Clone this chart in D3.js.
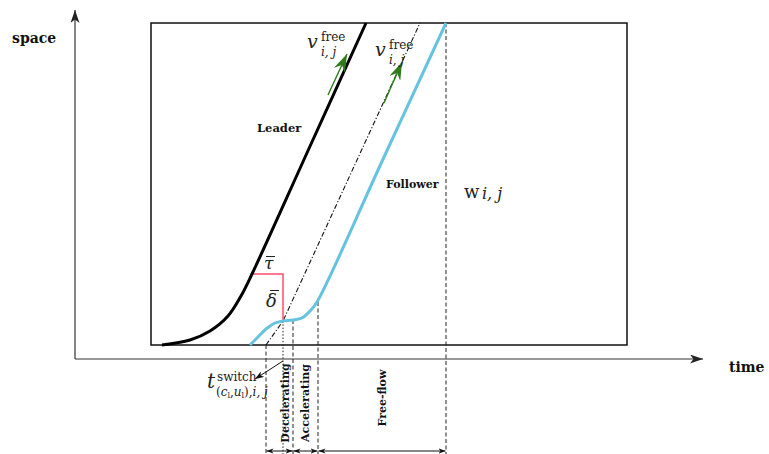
<!DOCTYPE html>
<html>
<head>
<meta charset="utf-8">
<script src="https://cdn.jsdelivr.net/npm/d3@7"></script>
<style>
  html, body { margin: 0; padding: 0; background: #fff; }
  svg { display: block; }
  .lbl { font-family: "DejaVu Serif", serif; font-weight: bold; fill: #111; }
  .math { font-family: "DejaVu Serif", serif; fill: #222; }
</style>
</head>
<body>
<svg id="chart" width="769" height="454"></svg>
<script>
// Time-space diagram: leader trajectory, follower trajectory and the
// shifted (tau, delta) reference line, with the follower's phases.

// Plot window (time, space)
const windowTime = [7.6, 55.2];
const windowSpace = [1.4, 33.6];

// Leader trajectory [time, space]
const leaderTime  = [8.7, 11.5, 13.5, 15.3, 16.6, 17.7, 23.4, 29.1];
const leaderSpace = [1.4, 1.9, 2.8, 4.3, 6.3, 8.5, 21.05, 33.6];

// Follower trajectory [time, space]
const followerTime  = [17.5, 18.3, 19.1, 20.0, 20.8, 21.8, 22.7, 23.5, 24.2, 30.65, 37.1];
const followerSpace = [1.4, 2.2, 3.0, 3.6, 3.8, 3.9, 4.1, 4.8, 5.7, 19.65, 33.6];

// Leader shifted by reaction time tau and jam spacing delta
const shiftedTime  = [19.1, 20.8, 34.5];
const shiftedSpace = [1.4, 3.8, 33.6];

// Tau / delta construction
const tauTime  = [17.7, 20.8, 20.8];
const tauSpace = [8.5, 8.5, 3.8];

// Phase boundaries: switch, end of decelerating, end of accelerating, end of free-flow
const phaseTime  = [19.1, 21.8, 24.3, 37.1];
const phaseTop   = [1.4, 3.9, 5.7, 33.6];
const phaseNames = ["Decelerating", "Accelerating", "Free-flow"];

// Instant the follower reaches the shifted line
const meetTime = 20.8, meetSpace = 3.8;

// Free-flow speed arrows [t0, s0, t1, s1]
const speedArrows = [[25.3, 26.4, 27.2, 30.5], [30.9, 25.6, 32.7, 29.7]];

const svg = d3.select("#chart");
const x = d3.scaleLinear().domain([0, 62.8]).range([75, 703]);
const y = d3.scaleLinear().domain([0, 34.5]).range([359, 14]);
const bottomSpace = -9.6, arrowSpace = -9.2;

// Arrow heads
const defs = svg.append("defs");
function marker(id, len, half, color, notch) {
  defs.append("marker")
    .attr("id", id)
    .attr("viewBox", `${-len} ${-half} ${len} ${half * 2}`)
    .attr("refX", 0).attr("refY", 0)
    .attr("markerUnits", "userSpaceOnUse")
    .attr("markerWidth", len).attr("markerHeight", half * 2)
    .attr("orient", "auto-start-reverse")
    .append("path")
    .attr("d", `M0,0L${-len},${-half}L${-len + notch},0L${-len},${half}Z`)
    .attr("fill", color);
}
marker("axisHead", 13, 4.5, "#222", 3.5);
marker("smallHead", 7, 2.6, "#111", 2);
marker("switchHead", 9, 3.2, "#111", 2.5);
marker("greenHead", 18, 6, "#2e7a1c", 6);

// Axes
svg.append("line")
  .attr("x1", x(0)).attr("y1", y(0)).attr("x2", x(0)).attr("y2", y(34.9))
  .attr("stroke", "#333").attr("stroke-width", 1.2)
  .attr("marker-end", "url(#axisHead)");
svg.append("line")
  .attr("x1", x(0)).attr("y1", y(0)).attr("x2", x(62.8)).attr("y2", y(0))
  .attr("stroke", "#333").attr("stroke-width", 1.2)
  .attr("marker-end", "url(#axisHead)");

// Plot window frame
svg.append("rect")
  .attr("x", x(windowTime[0])).attr("y", y(windowSpace[1]))
  .attr("width", x(windowTime[1]) - x(windowTime[0]))
  .attr("height", y(windowSpace[0]) - y(windowSpace[1]))
  .attr("fill", "none").attr("stroke", "#111").attr("stroke-width", 1.5);

// Phase boundary verticals
phaseTime.forEach((t, i) => {
  svg.append("line")
    .attr("x1", x(t)).attr("y1", y(phaseTop[i]))
    .attr("x2", x(t)).attr("y2", y(bottomSpace))
    .attr("stroke", "#222").attr("stroke-width", 1)
    .attr("stroke-dasharray", "4,2.5");
});
svg.append("line")
  .attr("x1", x(meetTime)).attr("y1", y(meetSpace))
  .attr("x2", x(meetTime)).attr("y2", y(bottomSpace))
  .attr("stroke", "#222").attr("stroke-width", 1)
  .attr("stroke-dasharray", "1.5,1.8");

// Phase duration arrows and labels
phaseNames.forEach((name, i) => {
  const t0 = phaseTime[i], t1 = phaseTime[i + 1];
  svg.append("line")
    .attr("x1", x(t0) + 0.5).attr("y1", y(arrowSpace))
    .attr("x2", x(t1) - 0.5).attr("y2", y(arrowSpace))
    .attr("stroke", "#111").attr("stroke-width", 1)
    .attr("marker-start", "url(#smallHead)")
    .attr("marker-end", "url(#smallHead)");
});
const phaseLabelPos = [[289, 403], [309, 403], [386, 398]];
phaseNames.forEach((name, i) => {
  svg.append("text").attr("class", "lbl")
    .attr("transform", `translate(${phaseLabelPos[i][0]},${phaseLabelPos[i][1]}) rotate(-90)`)
    .attr("text-anchor", "middle")
    .attr("font-size", 11)
    .text(name);
});

const line = d3.line().x(d => x(d[0])).y(d => y(d[1]));
const smooth = d3.line().x(d => x(d[0])).y(d => y(d[1])).curve(d3.curveCatmullRom.alpha(0.5));

// Shifted leader reference (dash-dot)
svg.append("path")
  .attr("d", line(d3.zip(shiftedTime, shiftedSpace)))
  .attr("fill", "none").attr("stroke", "#111").attr("stroke-width", 1.1)
  .attr("stroke-dasharray", "5,2,1.2,2");

// Tau / delta construction
svg.append("path")
  .attr("d", line(d3.zip(tauTime, tauSpace)))
  .attr("fill", "none").attr("stroke", "#ff4f6e").attr("stroke-width", 1.5);

// Leader and follower trajectories
svg.append("path")
  .attr("d", smooth(d3.zip(leaderTime, leaderSpace)))
  .attr("fill", "none").attr("stroke", "#000").attr("stroke-width", 3);
svg.append("path")
  .attr("d", smooth(d3.zip(followerTime, followerSpace)))
  .attr("fill", "none").attr("stroke", "#66c3e0").attr("stroke-width", 3);

// Free-flow speed arrows
speedArrows.forEach(a => {
  svg.append("line")
    .attr("x1", x(a[0])).attr("y1", y(a[1])).attr("x2", x(a[2])).attr("y2", y(a[3]))
    .attr("stroke", "#2e7a1c").attr("stroke-width", 1.4)
    .attr("marker-end", "url(#greenHead)");
});

// Switch-time pointer
svg.append("line")
  .attr("x1", x(20.8)).attr("y1", y(-0.2)).attr("x2", x(18.0)).attr("y2", y(-2.0))
  .attr("stroke", "#111").attr("stroke-width", 1)
  .attr("marker-end", "url(#switchHead)");

// Axis titles and trajectory names
svg.append("text").attr("class", "lbl").attr("x", 12).attr("y", 43).attr("font-size", 14).text("space");
svg.append("text").attr("class", "lbl").attr("x", 729).attr("y", 372).attr("font-size", 14).text("time");
svg.append("text").attr("class", "lbl").attr("x", 257).attr("y", 132).attr("font-size", 11.5).text("Leader");
svg.append("text").attr("class", "lbl").attr("x", 386).attr("y", 188).attr("font-size", 11).text("Follower");

// Math labels
function vfree(x0, y0) {
  svg.append("text").attr("class", "math").attr("x", x0).attr("y", y0)
    .attr("font-size", 19).attr("font-style", "italic").text("v");
  svg.append("text").attr("class", "math").attr("x", x0 + 14).attr("y", y0 - 7)
    .attr("font-size", 12).text("free");
  svg.append("text").attr("class", "math").attr("x", x0 + 14).attr("y", y0 + 8)
    .attr("font-size", 12).attr("font-style", "italic").text("i, j");
}
vfree(307, 48);
vfree(375, 56);

svg.append("text").attr("class", "math").attr("x", 464).attr("y", 198).attr("font-size", 18).text("w");
svg.append("text").attr("class", "math").attr("x", 482).attr("y", 199).attr("font-size", 16)
  .attr("font-style", "italic").text("i, j");

// tau-bar and delta-bar
svg.append("text").attr("class", "math").attr("x", 264).attr("y", 269).attr("font-size", 17)
  .attr("font-style", "italic").text("τ");
svg.append("line").attr("x1", 266).attr("x2", 275).attr("y1", 256.5).attr("y2", 256.5)
  .attr("stroke", "#222").attr("stroke-width", 1);
svg.append("text").attr("class", "math").attr("x", 266).attr("y", 307).attr("font-size", 18)
  .attr("font-style", "italic").text("δ");
svg.append("line").attr("x1", 270).attr("x2", 279).attr("y1", 290.5).attr("y2", 290.5)
  .attr("stroke", "#222").attr("stroke-width", 1);

svg.append("text").attr("class", "math").attr("x", 207).attr("y", 388).attr("font-size", 20)
  .attr("font-style", "italic").text("t");
svg.append("text").attr("class", "math").attr("x", 217).attr("y", 381).attr("font-size", 12).text("switch");
const sub = svg.append("text").attr("class", "math").attr("x", 216).attr("y", 396)
  .attr("font-size", 12).attr("font-style", "italic");
sub.append("tspan").attr("font-style", "normal").text("(");
sub.append("tspan").text("c");
sub.append("tspan").attr("font-size", 8).attr("dy", 2).attr("font-style", "normal").text("l");
sub.append("tspan").attr("dy", -2).attr("font-style", "normal").text(",");
sub.append("tspan").text("u");
sub.append("tspan").attr("font-size", 8).attr("dy", 2).attr("font-style", "normal").text("l");
sub.append("tspan").attr("dy", -2).attr("font-style", "normal").text("),");
sub.append("tspan").text("i, j");
</script>
</body>
</html>
